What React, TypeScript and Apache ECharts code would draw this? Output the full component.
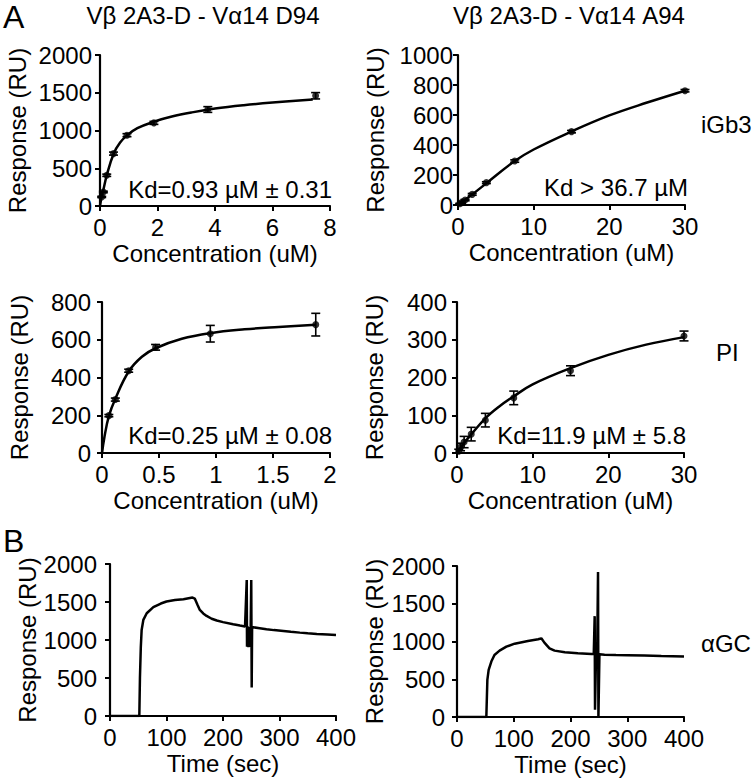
import React, { useEffect, useRef } from "react";
import * as echarts from "echarts";

// Panel A, D94 / iGb3
const P1_X = [0.0586, 0.117, 0.234, 0.469, 0.938, 1.875, 3.75, 7.5];
const P1_Y = [120, 186, 407, 694, 938, 1101, 1278, 1460];
const P1_ERR = [8, 10, 15, 20, 20, 20, 38, 42];
const P1_FIT_X = [0, 0.03, 0.06, 0.12, 0.23, 0.47, 0.7, 0.94, 1.3, 1.9, 2.5, 3.2, 4, 5, 6, 7.4];
const P1_FIT_Y = [0, 70, 130, 220, 400, 690, 840, 935, 1030, 1120, 1185, 1240, 1290, 1335, 1370, 1410];

// Panel A, A94 / iGb3
const P2_X = [0.23, 0.47, 0.94, 1.88, 3.75, 7.5, 15, 30];
const P2_Y = [8, 16, 33, 71, 149, 293, 489, 762];
const P2_ERR = [3, 4, 5, 6, 6, 8, 8, 8];
const P2_FIT_X = [0, 2, 4, 7.5, 10, 15, 20, 25, 30];
const P2_FIT_Y = [0, 75, 155, 293, 370, 490, 597, 683, 762];

// Panel A, D94 / PI
const P3_X = [0.06, 0.117, 0.234, 0.47, 0.95, 1.875];
const P3_Y = [198, 283, 436, 560, 632, 680];
const P3_ERR = [6, 8, 8, 15, 44, 60];
const P3_FIT_X = [0, 0.02, 0.06, 0.117, 0.234, 0.35, 0.47, 0.7, 0.95, 1.25, 1.55, 1.875];
const P3_FIT_Y = [0, 80, 195, 288, 432, 510, 555, 605, 635, 655, 668, 680];

// Panel A, A94 / PI
const P4_X = [0.23, 0.47, 0.94, 1.88, 3.75, 7.5, 15, 30];
const P4_Y = [5, 16, 29, 50, 87, 146, 218, 310];
const P4_ERR = [5, 10, 15, 18, 18, 18, 13, 13];
const P4_FIT_X = [0, 1, 2, 3.75, 5.5, 7.5, 10, 15, 20, 25, 30];
const P4_FIT_Y = [0, 28, 52, 92, 122, 150, 182, 225, 260, 287, 307];

// Panel B sensorgrams (time s, RU)
const S1_T = [0, 20, 40, 51.9, 53, 54.5, 56, 59, 65, 76.7, 90, 100, 115, 130, 146, 150, 155, 159, 165, 171, 180, 189, 200, 218, 230, 239, 242, 242.5, 243.5, 245, 246, 247.5, 249, 250, 250.8, 251.5, 254, 265, 277, 290, 307, 320, 336, 350, 366, 385, 400];
const S1_Y = [0, 0, 0, 0, 500, 900, 1132, 1264, 1352, 1432, 1480, 1507, 1525, 1537, 1559, 1545, 1460, 1396, 1350, 1317, 1280, 1256, 1235, 1207, 1190, 1178, 1790, 910, 1180, 905, 1170, 910, 1160, 1790, 375, 1165, 1167, 1155, 1141, 1130, 1119, 1108, 1097, 1088, 1079, 1072, 1066];
const S2_T = [0, 20, 40, 51.7, 53.5, 55.8, 60.5, 66, 75, 87, 101.6, 125, 143, 148.6, 154, 163, 172, 190, 213, 237, 241, 242.6, 243.2, 245, 247, 248.5, 249.2, 251, 260, 280, 300, 330, 360, 400];
const S2_Y = [0, 0, 0, 0, 492, 624, 734, 822, 879, 932, 971, 1007, 1029, 1042, 985, 910, 879, 857, 844, 835, 835, 1336, 97, 830, 835, 1921, 0, 830, 826, 821, 818, 813, 807, 800];

const FONT = "'Liberation Sans', Arial, Helvetica, sans-serif";

const zip = (a: number[], b: number[]) => a.map((v, i) => [v, b[i]]);
const errData = (x: number[], y: number[], e: number[]) => x.map((v, i) => [v, y[i] - e[i], y[i] + e[i]]);

function errSeries(idx: number, data: number[][]) {
  return {
    type: "custom",
    xAxisIndex: idx,
    yAxisIndex: idx,
    data,
    encode: { x: 0, y: [1, 2] },
    renderItem: (_p: any, api: any) => {
      const x = api.value(0);
      const lo = api.coord([x, api.value(1)]);
      const hi = api.coord([x, api.value(2)]);
      const cap = 4.5;
      const st = { stroke: "#000", lineWidth: 1.6 };
      return {
        type: "group",
        children: [
          { type: "line", shape: { x1: lo[0], y1: lo[1], x2: hi[0], y2: hi[1] }, style: st },
          { type: "line", shape: { x1: lo[0] - cap, y1: lo[1], x2: lo[0] + cap, y2: lo[1] }, style: st },
          { type: "line", shape: { x1: hi[0] - cap, y1: hi[1], x2: hi[0] + cap, y2: hi[1] }, style: st },
        ],
      };
    },
    z: 3,
  };
}

function pointSeries(idx: number, x: number[], y: number[]) {
  return {
    type: "scatter",
    xAxisIndex: idx,
    yAxisIndex: idx,
    data: zip(x, y),
    symbol: "circle",
    symbolSize: 7,
    itemStyle: { color: "#000" },
    z: 4,
  };
}

function lineSeries(idx: number, x: number[], y: number[], smooth: boolean | number, width: number) {
  return {
    type: "line",
    xAxisIndex: idx,
    yAxisIndex: idx,
    data: zip(x, y),
    showSymbol: false,
    smooth,
    lineStyle: { color: "#000", width },
    z: 2,
  };
}

const plain = (v: number) => String(v);

function xAxis(idx: number, max: number, interval: number, name: string) {
  return {
    type: "value",
    gridIndex: idx,
    min: 0,
    max,
    interval,
    name,
    nameLocation: "middle",
    nameGap: 35,
    nameTextStyle: { color: "#000", fontSize: 24, fontFamily: FONT },
    axisLine: { onZero: false, lineStyle: { color: "#000", width: 2.2 } },
    axisTick: { show: true, length: 5, lineStyle: { color: "#000", width: 2 } },
    axisLabel: { color: "#000", fontSize: 24, fontFamily: FONT, margin: 9, formatter: plain },
    splitLine: { show: false },
  };
}

function yAxis(idx: number, max: number, interval: number, margin: number) {
  return {
    type: "value",
    gridIndex: idx,
    min: 0,
    max,
    interval,
    name: "Response (RU)",
    nameLocation: "middle",
    nameGap: 71,
    nameTextStyle: { color: "#000", fontSize: 24, fontFamily: FONT },
    axisLine: { onZero: false, lineStyle: { color: "#000", width: 2.2 } },
    axisTick: { show: true, length: 5, lineStyle: { color: "#000", width: 2 } },
    axisLabel: { color: "#000", fontSize: 24, fontFamily: FONT, margin, formatter: plain },
    splitLine: { show: false },
  };
}

function txt(x: number, y: number, text: string, align: string, size = 24) {
  return {
    type: "text",
    x,
    y,
    style: { text, fill: "#000", font: `${size}px ${FONT}`, textAlign: align, textVerticalAlign: "middle" },
  };
}

export default function App() {
  const ref = useRef<HTMLDivElement>(null);
  useEffect(() => {
    if (!ref.current) return;
    const chart = echarts.init(ref.current, undefined, { renderer: "svg" });
    chart.setOption({
      animation: false,
      backgroundColor: "#fff",
      grid: [
        { left: 100, top: 55, width: 230, height: 151 },
        { left: 458, top: 55, width: 227, height: 150 },
        { left: 102, top: 302, width: 228, height: 151 },
        { left: 457, top: 302, width: 227, height: 151 },
        { left: 110, top: 564, width: 226, height: 152 },
        { left: 457, top: 566, width: 227, height: 151 },
      ],
      xAxis: [
        xAxis(0, 8, 2, "Concentration (uM)"),
        xAxis(1, 30, 10, "Concentration (uM)"),
        xAxis(2, 2, 0.5, "Concentration (uM)"),
        xAxis(3, 30, 10, "Concentration (uM)"),
        xAxis(4, 400, 100, "Time (sec)"),
        xAxis(5, 400, 100, "Time (sec)"),
      ],
      yAxis: [
        yAxis(0, 2000, 500, 8),
        yAxis(1, 1000, 200, 5),
        yAxis(2, 800, 200, 11),
        yAxis(3, 400, 100, 10),
        yAxis(4, 2000, 500, 13),
        yAxis(5, 2000, 500, 12),
      ],
      series: [
        lineSeries(0, P1_FIT_X, P1_FIT_Y, 0.4, 2.5),
        errSeries(0, errData(P1_X, P1_Y, P1_ERR)),
        pointSeries(0, P1_X, P1_Y),
        lineSeries(1, P2_FIT_X, P2_FIT_Y, 0.4, 2.5),
        errSeries(1, errData(P2_X, P2_Y, P2_ERR)),
        pointSeries(1, P2_X, P2_Y),
        lineSeries(2, P3_FIT_X, P3_FIT_Y, 0.4, 2.5),
        errSeries(2, errData(P3_X, P3_Y, P3_ERR)),
        pointSeries(2, P3_X, P3_Y),
        lineSeries(3, P4_FIT_X, P4_FIT_Y, 0.4, 2.5),
        errSeries(3, errData(P4_X, P4_Y, P4_ERR)),
        pointSeries(3, P4_X, P4_Y),
        lineSeries(4, S1_T, S1_Y, false, 2.5),
        lineSeries(5, S2_T, S2_Y, false, 2.5),
      ],
      graphic: [
        txt(3, 17, "A", "left", 32),
        txt(3, 541, "B", "left", 32),
        txt(203, 15, "Vβ 2A3-D - Vα14 D94", "center"),
        txt(569, 15, "Vβ 2A3-D - Vα14 A94", "center"),
        txt(332, 189, "Kd=0.93 µM ± 0.31", "right"),
        txt(688, 187, "Kd > 36.7 µM", "right"),
        txt(332, 435, "Kd=0.25 µM ± 0.08", "right"),
        txt(686, 435, "Kd=11.9 µM ± 5.8", "right"),
        txt(701, 124, "iGb3", "left"),
        txt(716, 352, "PI", "left"),
        txt(701, 643, "αGC", "left"),
      ],
    });
    return () => chart.dispose();
  }, []);
  return <div ref={ref} style={{ position: "fixed", left: 0, top: 0, width: 756, height: 784, background: "#fff" }} />;
}
